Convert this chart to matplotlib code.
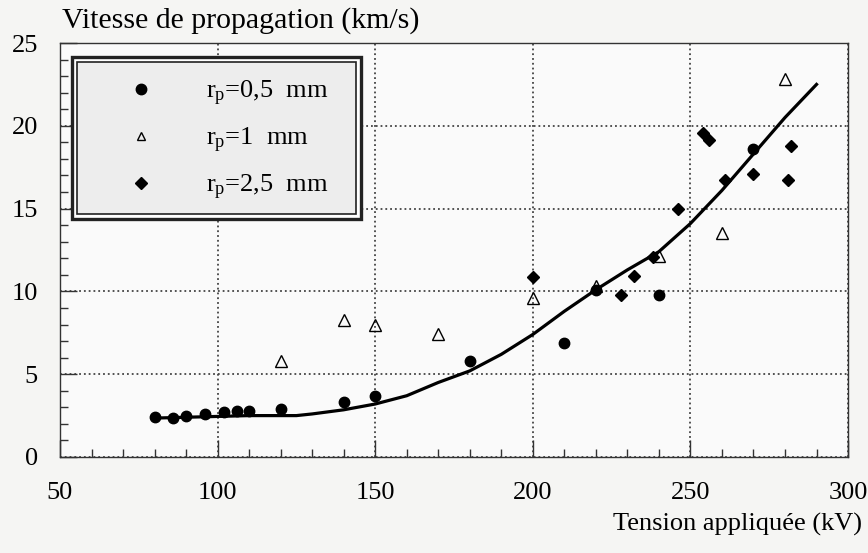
import matplotlib
matplotlib.use('Agg')
import matplotlib.pyplot as plt
from matplotlib.lines import Line2D
from matplotlib.patches import Rectangle
from matplotlib.ticker import MultipleLocator

plt.rcParams['font.family'] = ['Liberation Serif', 'DejaVu Serif']
plt.rcParams['mathtext.fontset'] = 'custom'
plt.rcParams['mathtext.rm'] = 'Liberation Serif'
plt.rcParams['mathtext.it'] = 'Liberation Serif:italic'

# données
rp05_x = [80, 86, 90, 96, 102, 106, 110, 120, 140, 150, 180, 210, 220, 240, 270]
rp05_y = [2.4, 2.35, 2.45, 2.6, 2.7, 2.75, 2.8, 2.9, 3.35, 3.7, 5.8, 6.9, 10.1, 9.8, 18.6]

rp1_x = [120, 140, 150, 170, 200, 220, 240, 260, 280]
rp1_y = [5.8, 8.25, 8.0, 7.4, 9.6, 10.35, 12.15, 13.5, 22.8]

rp25_x = [200, 228, 232, 238, 246, 254, 256, 261, 270, 281, 282]
rp25_y = [10.85, 9.8, 10.95, 12.05, 15.0, 19.55, 19.15, 16.7, 17.1, 16.7, 18.8]

# courbe d'ajustement
curve_x = [80, 90, 100, 110, 120, 125, 130, 140, 150, 160, 170, 180, 190,
           200, 210, 220, 230, 240, 250, 260, 270, 280, 290]
curve_y = [2.35, 2.4, 2.45, 2.5, 2.5, 2.5, 2.6, 2.85, 3.2, 3.7, 4.5, 5.2, 6.2,
           7.4, 8.8, 10.1, 11.3, 12.4, 14.1, 16.1, 18.3, 20.5, 22.5]

labels = [r'r$_{\rm p}$=0,5  mm', r'r$_{\rm p}$=1  mm', r'r$_{\rm p}$=2,5  mm']

fig = plt.figure(figsize=(8.68, 5.53), dpi=100, facecolor='#f5f5f3')
ax = fig.add_axes([0.0691, 0.1736, 0.9079, 0.7486])
ax.set_facecolor('#fafafa')

ax.plot(curve_x, curve_y, color='black', lw=2.3, zorder=3)
ax.plot(rp05_x, rp05_y, 'o', color='black', ms=7.5, zorder=4)
ax.plot(rp1_x, rp1_y, '^', mfc='none', mec='black', mew=1, ms=8, zorder=4)
ax.plot(rp25_x, rp25_y, 'D', color='black', ms=6, zorder=4)

ax.set_xlim(50, 300)
ax.set_ylim(0, 25)
ax.xaxis.set_major_locator(MultipleLocator(50))
ax.xaxis.set_minor_locator(MultipleLocator(10))
ax.yaxis.set_major_locator(MultipleLocator(5))
ax.yaxis.set_minor_locator(MultipleLocator(1))
ax.tick_params(which='both', direction='in', color='#333333')
ax.tick_params(which='major', length=12, width=1)
ax.tick_params(which='minor', length=6, width=1)
ax.tick_params(axis='x', labelsize=19, pad=18)
ax.tick_params(axis='y', labelsize=19, pad=16)
ax.grid(True, which='major', linestyle=':', color='#444444', lw=1.3)
for s in ax.spines.values():
    s.set_color('#333333')
    s.set_linewidth(1)

fig.text(62 / 868, 1 - 28 / 553, 'Vitesse de propagation (km/s)',
         fontsize=21.5, va='baseline', ha='left')
fig.text(862 / 868, 1 - 531 / 553, 'Tension appliquée (kV)',
         fontsize=19, va='baseline', ha='right')

# cadre double de la légende
def px_box(x0, y0, x1, y1):
    return ((x0 - 60) / 788, (457 - y1) / 414, (x1 - x0) / 788, (y1 - y0) / 414)

bx, by, bw, bh = px_box(72, 57, 361, 219)
ax.add_patch(Rectangle((bx, by), bw, bh, transform=ax.transAxes,
                       facecolor='white', edgecolor='#222222', lw=2.4, zorder=5))
bx, by, bw, bh = px_box(77, 62, 356, 214)
ax.add_patch(Rectangle((bx, by), bw, bh, transform=ax.transAxes,
                       facecolor='#ededed', edgecolor='#222222', lw=1.2, zorder=5))

handles = [
    Line2D([], [], marker='o', ls='none', color='black', ms=7.5),
    Line2D([], [], marker='^', ls='none', mfc='none', mec='black', mew=1, ms=6),
    Line2D([], [], marker='D', ls='none', color='black', ms=6),
]
leg = ax.legend(handles, labels, loc='center left',
                bbox_to_anchor=((115 - 60) / 788, (457 - 140) / 414),
                frameon=False, fontsize=19, handlelength=2, handletextpad=1.45,
                labelspacing=0.68, borderpad=0, borderaxespad=0)
leg.set_zorder(6)

fig.savefig('out.png', dpi=100, facecolor=fig.get_facecolor())
